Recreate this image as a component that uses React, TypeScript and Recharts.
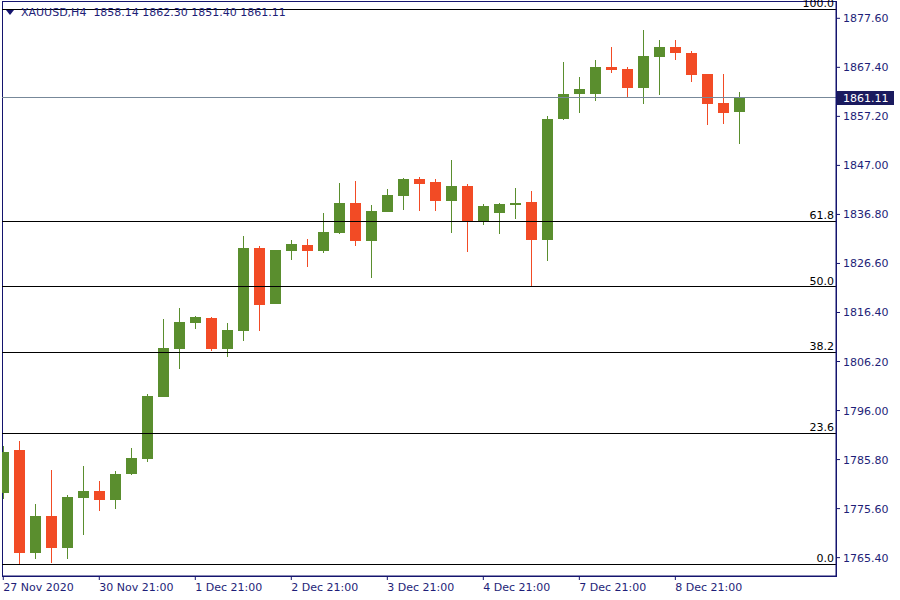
import React from 'react';
import { ComposedChart, Bar, XAxis, YAxis, ReferenceLine, ReferenceArea } from 'recharts';

const opens = [1778.8, 1787.8, 1766.4, 1774.1, 1767.5, 1777.9, 1779.3, 1777.3, 1782.7, 1785.9, 1798.9, 1808.9, 1814.3, 1815.3, 1808.7, 1812.6, 1829.8, 1818.2, 1829.1, 1830.4, 1829.1, 1833.0, 1839.2, 1831.3, 1837.4, 1840.7, 1844.2, 1843.5, 1839.5, 1842.7, 1835.3, 1837.0, 1838.8, 1839.4, 1831.5, 1856.6, 1861.8, 1861.8, 1867.5, 1867.0, 1863.2, 1869.6, 1871.6, 1870.4, 1866.0, 1860.0, 1858.14];
const highs = [1788.6, 1789.7, 1776.6, 1783.6, 1778.4, 1784.5, 1781.3, 1783.4, 1788.2, 1799.5, 1815.1, 1817.3, 1815.7, 1815.5, 1814.2, 1832.3, 1830.3, 1829.5, 1831.5, 1831.7, 1837.1, 1843.3, 1843.8, 1838.8, 1842.1, 1844.4, 1844.6, 1844.2, 1848.1, 1843.1, 1839.0, 1839.2, 1842.3, 1841.7, 1857.3, 1868.5, 1865.4, 1868.9, 1871.6, 1867.5, 1875.2, 1873.1, 1873.1, 1870.8, 1866.1, 1866.0, 1862.30];
const lows = [1777.6, 1764.1, 1765.2, 1764.3, 1765.2, 1770.1, 1775.2, 1775.5, 1782.6, 1785.3, 1798.8, 1804.7, 1813.0, 1808.4, 1807.2, 1810.5, 1812.6, 1818.1, 1827.4, 1825.9, 1828.8, 1832.8, 1830.3, 1823.6, 1837.3, 1837.8, 1837.6, 1837.6, 1833.0, 1829.0, 1834.7, 1832.8, 1835.9, 1821.8, 1827.2, 1856.5, 1857.8, 1860.3, 1866.3, 1861.1, 1859.8, 1861.7, 1869.0, 1864.4, 1855.3, 1855.7, 1851.40];
const closes = [1787.4, 1766.4, 1774.1, 1767.5, 1778.0, 1779.3, 1777.4, 1782.8, 1786.1, 1799.0, 1809.0, 1814.4, 1815.5, 1808.7, 1812.8, 1829.8, 1818.0, 1829.3, 1830.7, 1829.1, 1833.1, 1839.2, 1831.3, 1837.5, 1840.8, 1844.2, 1843.2, 1839.5, 1842.7, 1835.3, 1838.6, 1839.0, 1839.2, 1831.5, 1856.7, 1861.9, 1862.9, 1867.5, 1866.9, 1863.2, 1869.8, 1871.6, 1870.4, 1865.9, 1859.8, 1858.0, 1861.11];

const xTickIndex = [0, 6, 12, 18, 24, 30, 36, 42];
const xTickLabels = ['27 Nov 2020', '30 Nov 21:00', '1 Dec 21:00', '2 Dec 21:00', '3 Dec 21:00', '4 Dec 21:00', '7 Dec 21:00', '8 Dec 21:00'];
const yTicks = [1765.4, 1775.6, 1785.8, 1796.0, 1806.2, 1816.4, 1826.6, 1836.8, 1847.0, 1857.2, 1867.4, 1877.6];
const fibLevels = [0, 23.6, 38.2, 50, 61.8, 100];
const fibLabels = ['0.0', '23.6', '38.2', '50.0', '61.8', '100.0'];
const fibLow = 1764.0;
const fibHigh = 1879.5;
const lastPrice = 1861.11;
const headerText = 'XAUUSD,H4  1858.14 1862.30 1851.40 1861.11';

const X_DOMAIN: [number, number] = [-0.08, 52.04];
const Y_DOMAIN: [number, number] = [1761.58, 1881.2];

const NAVY = '#14146e';
const TEXT = '#1e1e78';
const UP = '#5a8e2e';
const DOWN = '#f24b25';
const FONT = '"DejaVu Sans", Verdana, sans-serif';

const data = opens.map((o, i) => ({
  i,
  open: o,
  high: highs[i],
  low: lows[i],
  close: closes[i],
  range: [lows[i], highs[i]],
}));

const Candle = (props: any) => {
  const { x, y, width, height, payload } = props;
  if (!payload) return null;
  const top = Math.min(y, y + height);
  const h = Math.abs(height);
  const span = payload.high - payload.low;
  const k = span > 0 ? h / span : 0;
  const yOf = (v: number) => top + (payload.high - v) * k;
  const cx = x + width / 2;
  const up = payload.close >= payload.open;
  const color = up ? UP : DOWN;
  const bTop = Math.round(yOf(Math.max(payload.open, payload.close)));
  const bBot = Math.round(yOf(Math.min(payload.open, payload.close)));
  const left = Math.round(cx - 5.5);
  const wx = Math.round(cx - 0.5);
  const wTop = Math.round(yOf(payload.high));
  const wBot = Math.round(yOf(payload.low));
  return (
    <g shapeRendering="crispEdges">
      <rect x={wx} y={wTop} width={1} height={Math.max(1, wBot - wTop)} fill={color} />
      <rect x={left} y={bTop} width={11} height={Math.max(2, bBot - bTop)} fill={color} />
    </g>
  );
};

const XTick = (props: any) => {
  const { x, payload } = props;
  const idx = xTickIndex.indexOf(payload.value);
  const label = idx >= 0 ? xTickLabels[idx] : '';
  return (
    <text x={x} y={591} fill={TEXT} fontSize={11} fontFamily={FONT} textAnchor="start">
      {label}
    </text>
  );
};

const YTick = (props: any) => {
  const { y, payload } = props;
  return (
    <text x={843} y={y + 4} fill={TEXT} fontSize={11} fontFamily={FONT} textAnchor="start">
      {Number(payload.value).toFixed(2)}
    </text>
  );
};

const FibLabel = (props: any) => {
  const { viewBox, text } = props;
  if (!viewBox) return null;
  return (
    <text x={viewBox.x + viewBox.width - 2} y={viewBox.y - 2} fill="#000" fontSize={11} fontFamily={FONT} textAnchor="end">
      {text}
    </text>
  );
};

const PriceLabel = (props: any) => {
  const { viewBox, text } = props;
  if (!viewBox) return null;
  const x0 = viewBox.x + viewBox.width + 1;
  return (
    <g>
      <rect x={x0} y={Math.round(viewBox.y) - 7} width={57} height={14} fill="#1a1a5e" shapeRendering="crispEdges" />
      <text x={x0 + 6} y={Math.round(viewBox.y) + 4} fill="#fff" fontSize={11} fontFamily={FONT} textAnchor="start">
        {text}
      </text>
    </g>
  );
};

export default function App() {
  return (
    <div style={{ position: 'absolute', left: 0, top: 0, width: 900, height: 600, background: '#fff' }}>
      <ComposedChart
        width={900}
        height={600}
        data={data}
        margin={{ top: 1, right: 0, left: 2, bottom: 0 }}
      >
        <XAxis
          dataKey="i"
          type="number"
          domain={X_DOMAIN}
          allowDataOverflow
          ticks={xTickIndex}
          interval={0}
          tick={<XTick />}
          tickSize={4}
          height={24}
          axisLine={{ stroke: NAVY }}
          tickLine={{ stroke: NAVY }}
        />
        <YAxis
          orientation="right"
          type="number"
          domain={Y_DOMAIN}
          allowDataOverflow
          ticks={yTicks}
          interval={0}
          tick={<YTick />}
          tickSize={4}
          width={64}
          axisLine={{ stroke: NAVY }}
          tickLine={{ stroke: NAVY }}
        />
        <ReferenceArea
          x1={X_DOMAIN[0]}
          x2={X_DOMAIN[1]}
          y1={Y_DOMAIN[0]}
          y2={Y_DOMAIN[1]}
          fill="none"
          stroke={NAVY}
          shapeRendering="crispEdges"
          ifOverflow="visible"
        />
        <Bar dataKey="range" barSize={11} shape={<Candle />} isAnimationActive={false} />
        {fibLevels.map((p, k) => (
          <ReferenceLine
            key={p}
            y={fibLow + ((fibHigh - fibLow) * p) / 100}
            stroke="#000"
            strokeWidth={1}
            shapeRendering="crispEdges"
            label={<FibLabel text={fibLabels[k]} />}
          />
        ))}
        <ReferenceLine
          y={lastPrice}
          stroke="#778899"
          strokeWidth={1}
          shapeRendering="crispEdges"
          label={<PriceLabel text={lastPrice.toFixed(2)} />}
        />
      </ComposedChart>
      <div
        style={{
          position: 'absolute',
          left: 0,
          top: 0,
          height: 20,
          display: 'flex',
          alignItems: 'center',
          fontFamily: FONT,
          fontSize: 11,
          color: TEXT,
          whiteSpace: 'pre',
        }}
      >
        <svg width={21} height={20} style={{ display: 'block' }}>
          <polygon points="6,10 14,10 10,15" fill={NAVY} />
        </svg>
        <span style={{ position: 'relative', top: 2 }}>{headerText}</span>
      </div>
    </div>
  );
}
